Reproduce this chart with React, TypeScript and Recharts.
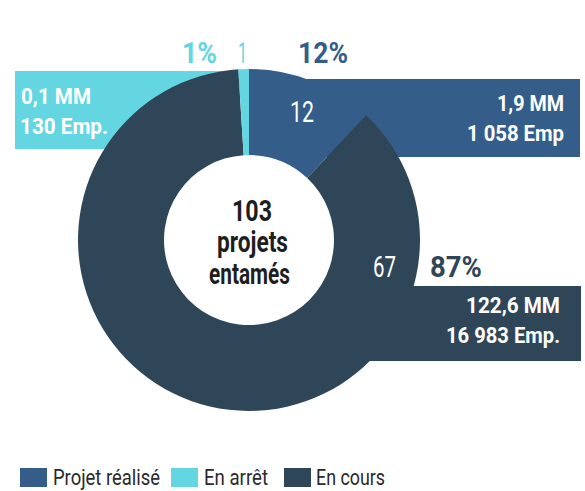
import { PieChart, Pie, Cell, Legend } from "recharts";

const categories = ["Projet réalisé", "En arrêt", "En cours"];
const shares = [12, 1, 87];
const counts = ["12", "1", "67"];
const amounts = ["1,9 MM", "0,1 MM", "122,6 MM"];
const jobs = ["1 058 Emp", "130 Emp.", "16 983 Emp."];
const colors = ["#355d89", "#63d6e1", "#2f4658"];
const centerLines = ["103", "projets", "entamés"];

// drawing order clockwise from the top: réalisé, en cours, en arrêt
const drawOrder = [0, 2, 1];
const pieData = drawOrder.map((i) => ({
  name: categories[i],
  value: shares[i],
  color: colors[i],
}));

const FONT = "Roboto, 'Liberation Sans', sans-serif";

const CX = 249;
const CY = 240;

// text squeezed to the width it has in the reference (condensed face)
const T = ({ x, y, w, size, bold, fill, anchor, children }: any) => (
  <text
    x={x}
    y={y}
    fontSize={size}
    fontWeight={bold ? 700 : 400}
    fill={fill}
    textAnchor={anchor || "start"}
    textLength={w}
    lengthAdjust="spacingAndGlyphs"
    fontFamily={FONT}
  >
    {children}
  </text>
);

const layer: any = { position: "absolute", left: 0, top: 0 };

// colored boxes sitting behind the ring (edges tucked under the ring)
const Boxes = () => (
  <svg width={585} height={491} style={layer}>
    <rect x={15} y={71} width={240 - 15} height={78} fill={colors[1]} />
    <rect x={285} y={79} width={580 - 285} height={78} fill={colors[0]} />
    <rect x={340} y={286} width={581 - 340} height={75} fill={colors[2]} />
  </svg>
);

const Annotations = () => (
  <svg width={585} height={491} style={{ ...layer, pointerEvents: "none" }}>
    {/* percentages above / beside the ring */}
    <T x={182} y={63} w={35} size={30} bold fill={colors[1]}>{shares[1]}%</T>
    <T x={238} y={63} w={9} size={30} fill={colors[1]}>{counts[1]}</T>
    <T x={298} y={63} w={50} size={30} bold fill={colors[0]}>{shares[0]}%</T>
    <T x={430} y={277} w={52} size={30} bold fill={colors[2]}>{shares[2]}%</T>

    {/* counts inside the slices */}
    <T x={290} y={122} w={24} size={30} fill="#fff">{counts[0]}</T>
    <T x={373} y={277} w={23} size={30} fill="#fff">{counts[2]}</T>

    {/* amounts / jobs in the boxes */}
    <T x={21} y={104} w={70} size={22} bold fill="#fff">{amounts[1]}</T>
    <T x={20} y={134} w={88} size={22} bold fill="#fff">{jobs[1]}</T>
    <T x={497} y={111} w={67} size={22} bold fill="#fff">{amounts[0]}</T>
    <T x={467} y={141} w={97} size={22} bold fill="#fff">{jobs[0]}</T>
    <T x={466} y={313} w={94} size={22} bold fill="#fff">{amounts[2]}</T>
    <T x={446} y={343} w={114} size={22} bold fill="#fff">{jobs[2]}</T>

    {/* center text */}
    <T x={232} y={221} w={40} size={29} bold fill="#1e1e1e">{centerLines[0]}</T>
    <T x={217} y={252} w={71} size={29} bold fill="#1e1e1e">{centerLines[1]}</T>
    <T x={209} y={284} w={81} size={29} bold fill="#1e1e1e">{centerLines[2]}</T>
  </svg>
);

const legendSwatchX = [20, 171, 284];
const legendTextX = [53, 204, 316];
const legendTextW = [107, 64, 69];

const LegendContent = () => (
  <svg width={585} height={41} style={{ display: "block" }}>
    {categories.map((c, i) => (
      <g key={c}>
        <rect x={legendSwatchX[i]} y={18} width={27} height={19} fill={colors[i]} />
        <T x={legendTextX[i]} y={35} w={legendTextW[i]} size={22} fill="#2a2a2a">
          {c}
        </T>
      </g>
    ))}
  </svg>
);

export default function App() {
  return (
    <div style={{ position: "absolute", left: 0, top: 0, width: 585, height: 491, background: "#fff" }}>
      <Boxes />
      <div style={layer}>
        <PieChart width={585} height={491} margin={{ top: 0, right: 0, bottom: 0, left: 0 }}>
          <Pie
            data={pieData}
            dataKey="value"
            nameKey="name"
            cx={CX}
            cy={CY}
            innerRadius={85}
            outerRadius={171}
            startAngle={90}
            endAngle={-270}
            stroke="none"
            isAnimationActive={false}
          >
            {pieData.map((d) => (
              <Cell key={d.name} fill={d.color} />
            ))}
          </Pie>
          <Legend
            content={<LegendContent />}
            wrapperStyle={{ left: 0, top: 450, width: 585, height: 41 }}
          />
        </PieChart>
      </div>
      <Annotations />
    </div>
  );
}
